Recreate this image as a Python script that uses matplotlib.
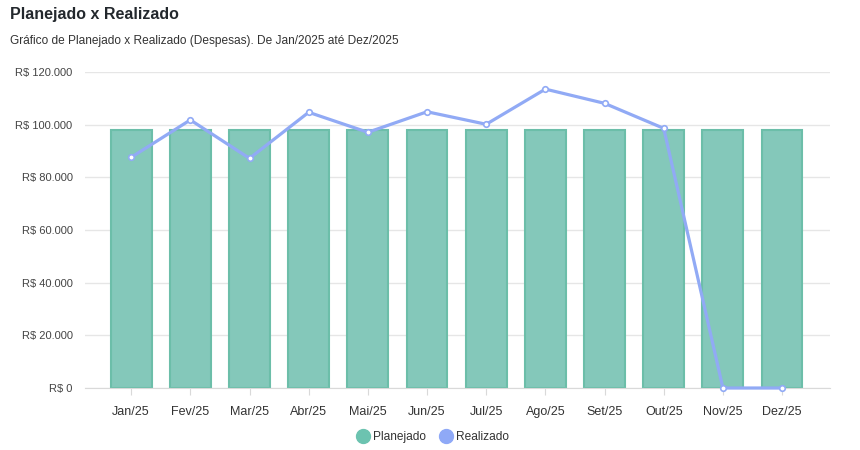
import matplotlib.pyplot as plt
import numpy as np
from matplotlib.lines import Line2D
from matplotlib.ticker import FuncFormatter

MESES = ["Jan/25", "Fev/25", "Mar/25", "Abr/25", "Mai/25", "Jun/25",
         "Jul/25", "Ago/25", "Set/25", "Out/25", "Nov/25", "Dez/25"]
PLANEJADO = [98000] * 12
REALIZADO = [87600, 101800, 87200, 104700, 97100, 104900,
             100150, 113500, 108100, 98600, 0, 0]

COR_PLAN = "#84c8ba"
COR_PLAN_BORDA = "#6cbea9"
COR_REAL = "#91aaf5"

plt.rcParams["font.family"] = ["Liberation Sans", "DejaVu Sans"]


def fmt_reais(v, pos):
    # formato brasileiro: ponto como separador de milhar
    return "R$ " + f"{int(v):,}".replace(",", ".")


def main():
    fig = plt.figure(figsize=(8.6, 4.5), dpi=100)
    ax = fig.add_axes([85 / 860, 1 - 388 / 450, 745 / 860, 316 / 450])

    x = np.arange(len(MESES))
    ax.bar(x, PLANEJADO, width=0.69, color=COR_PLAN,
           edgecolor=COR_PLAN_BORDA, linewidth=1.5, zorder=2)
    ax.plot(x, REALIZADO, color=COR_REAL, linewidth=2.3, zorder=3,
            marker="o", markersize=4, markerfacecolor="white",
            markeredgecolor=COR_REAL, markeredgewidth=1.2, clip_on=False)

    ax.set_ylim(0, 120000)
    ax.set_xlim(-0.78, 11.81)
    ax.set_yticks(np.arange(0, 120001, 20000))
    ax.yaxis.set_major_formatter(FuncFormatter(fmt_reais))
    ax.set_xticks(x)
    ax.set_xticklabels(MESES)

    ax.grid(axis="y", color="#e6e6e6", linewidth=1, zorder=0)
    ax.set_axisbelow(True)
    for s in ["top", "right", "left"]:
        ax.spines[s].set_visible(False)
    ax.spines["bottom"].set_color("#d9d9d9")
    ax.tick_params(axis="y", length=0, pad=9, labelsize=8,
                   labelcolor="#444444")
    ax.tick_params(axis="x", length=5, color="#d9d9d9", pad=8,
                   labelsize=9, labelcolor="#333333")

    fig.text(10 / 860, 1 - 14 / 450, "Planejado x Realizado", fontsize=11.5,
             fontweight="bold", color="#23282d", va="center")
    fig.text(10 / 860, 1 - 41 / 450,
             "Gráfico de Planejado x Realizado (Despesas). De Jan/2025 até Dez/2025",
             fontsize=8.6, color="#333333", va="center")

    handles = [
        Line2D([], [], linestyle="", marker="o", markersize=10,
               color="#6cc3b0", label="Planejado"),
        Line2D([], [], linestyle="", marker="o", markersize=10,
               color="#8fa9f7", label="Realizado"),
    ]
    fig.legend(handles=handles, loc="center", bbox_to_anchor=(0.5, 1 - 437 / 450),
               ncol=2, frameon=False, fontsize=8.6, handletextpad=-0.1,
               columnspacing=0.6, labelcolor="#333333")

    fig.savefig("out.png", dpi=100)


if __name__ == "__main__":
    main()
